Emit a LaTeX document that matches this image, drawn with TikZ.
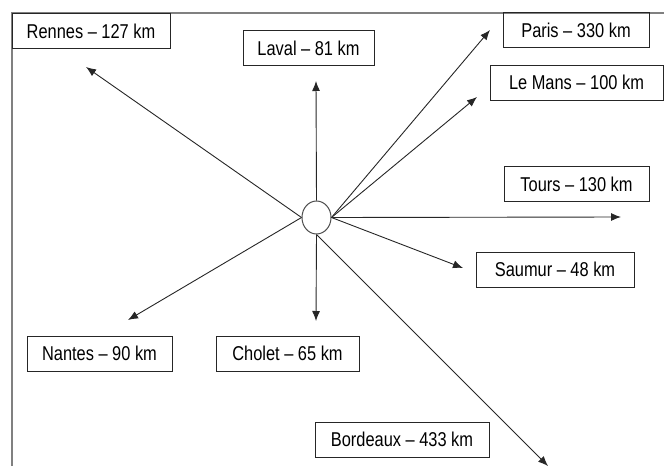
\documentclass[tikz,border=0pt]{standalone}
\usepackage{fontspec}
\setmainfont{Liberation Sans}[FakeStretch=0.82]
\usetikzlibrary{arrows.meta,shapes.geometric}
\begin{document}
\begin{tikzpicture}[x=1pt,y=-1pt,
    city/.style={draw=black!85,line width=1pt,inner sep=0pt,minimum height=35pt,
      font=\fontsize{20}{24}\selectfont},
    road/.style={draw=black!85,line width=0.9pt,-{Latex[length=10pt,width=8pt]}}]
    \useasboundingbox (0,0) rectangle (664,466);
    \draw[gray,line width=1.4pt] (12,466) -- (12,13) -- (664,13);
    \node[ellipse,draw=black!70,line width=1pt,minimum width=29pt,minimum height=33pt,inner sep=0pt] (hub) at (316.5,217.5) {};
    % city boxes
    \foreach \n/\x/\y/\w/\t in {rennes/91/31/158/Rennes – 127 km, laval/308.5/48/131/Laval – 81 km,
      paris/576/30/146/Paris – 330 km, lemans/576.5/82.5/173/Le Mans – 100 km,
      tours/576.5/184/145/Tours – 130 km, saumur/555/269.5/158/Saumur – 48 km,
      nantes/99.5/353.5/145/Nantes – 90 km, cholet/287.5/353.5/143/Cholet – 65 km,
      bordeaux/402/439.5/174/Bordeaux – 433 km}
      \node[city,minimum width=\w pt] (\n) at (\x,\y) {\t};
    % arrow tips
    \foreach \n/\x/\y in {rennesTip/86/67, lavalTip/316/81, parisTip/490/30, lemansTip/477/97,
      toursTip/621/217, saumurTip/463/268, nantesTip/128/320, choletTip/316/321, bordeauxTip/548/466}
      \coordinate (\n) at (\x,\y);
    \foreach \a/\b in {west/rennesTip, north/lavalTip, east/parisTip, east/lemansTip, east/toursTip,
      east/saumurTip, west/nantesTip, south/choletTip, south/bordeauxTip}
      \draw[road] (hub.\a) -- (\b);
\end{tikzpicture}
\end{document}
